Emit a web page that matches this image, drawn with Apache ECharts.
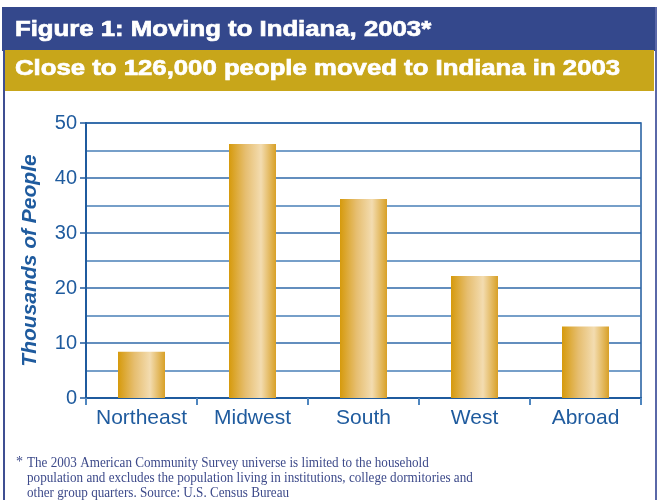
<!DOCTYPE html>
<html>
<head>
<meta charset="utf-8">
<script src="https://cdn.jsdelivr.net/npm/echarts@6/dist/echarts.min.js"></script>
<style>
html,body{margin:0;padding:0;background:#fff;}
#chart{width:658px;height:500px;}
</style>
</head>
<body>
<div id="chart"></div>
<script>
const categories = ['Northeast', 'Midwest', 'South', 'West', 'Abroad'];
const values = [8.4, 46.2, 36.2, 22.2, 13.0];
const yTicks = [0, 10, 20, 30, 40, 50];
const titleText = 'Figure 1: Moving to Indiana, 2003*';
const subtitleText = 'Close to 126,000 people moved to Indiana in 2003';
const yAxisName = 'Thousands of People';
const footnoteLines = [
  'The 2003 American Community Survey universe is limited to the household',
  'population and excludes the population living in institutions, college dormitories and',
  'other group quarters. Source: U.S. Census Bureau'
];

const blue = '#1f5b9e';
const chart = echarts.init(document.getElementById('chart'));
const barGradient = new echarts.graphic.LinearGradient(0, 0, 1, 0, [
  {offset: 0, color: '#d69a0c'},
  {offset: 0.35, color: '#e6be70'},
  {offset: 0.68, color: '#f3dcb0'},
  {offset: 1, color: '#d8a026'}
]);

chart.setOption({
  animation: false,
  grid: {left: 86, right: 17, top: 123, bottom: 102, show: true, borderColor: '#1f5b9e', borderWidth: 1.5},
  xAxis: {
    type: 'category',
    data: categories,
    axisLine: {lineStyle: {color: '#1f5b9e', width: 2}},
    axisTick: {show: true, interval: 0, length: 7, lineStyle: {color: '#4f86bf', width: 2}},
    axisLabel: {interval: 0, color: blue, fontSize: 21, fontFamily: 'Liberation Sans, Arial, sans-serif', margin: 10}
  },
  yAxis: {
    type: 'value',
    min: yTicks[0],
    max: yTicks[yTicks.length - 1],
    interval: 10,
    name: yAxisName,
    nameLocation: 'middle',
    nameGap: 45,
    nameTextStyle: {color: blue, fontSize: 21, fontWeight: 'bold', fontStyle: 'italic', fontFamily: 'Liberation Sans, Arial, sans-serif'},
    axisLine: {show: true, lineStyle: {color: '#1f5b9e', width: 2}},
    axisTick: {show: true, length: 6, lineStyle: {color: '#1f5b9e', width: 1.5}},
    axisLabel: {color: blue, fontSize: 20, fontFamily: 'Liberation Sans, Arial, sans-serif', margin: 9},
    splitLine: {show: true, lineStyle: {color: '#2f68a8', width: 1.5}},
    minorTick: {show: false, splitNumber: 2},
    minorSplitLine: {show: true, lineStyle: {color: '#4a80b8', width: 1.5}}
  },
  series: [{
    type: 'bar',
    data: values,
    barWidth: 47,
    itemStyle: {color: barGradient}
  }],
  graphic: [
    {type: 'rect', shape: {x: 2, y: 7, width: 653, height: 44}, style: {fill: '#34488c'}, z: 1},
    {type: 'rect', shape: {x: 3, y: 50, width: 651, height: 41}, style: {fill: '#c8a61a'}, z: 2},
    {type: 'line', shape: {x1: 4, y1: 50, x2: 4, y2: 500}, style: {stroke: '#3f4f92', lineWidth: 2}, z: 3},
    {type: 'line', shape: {x1: 656, y1: 7, x2: 656, y2: 500}, style: {stroke: '#5a68a8', lineWidth: 2}, z: 3},
    {type: 'text', x: 15, y: 30, scaleX: 1.17, z: 5, style: {text: titleText, fill: '#fff', stroke: '#fff', lineWidth: 0.7, font: 'bold 22px "Liberation Sans", Arial, sans-serif', textVerticalAlign: 'middle'}},
    {type: 'text', x: 15, y: 69, scaleX: 1.17, z: 5, style: {text: subtitleText, fill: '#fff', stroke: '#fff', lineWidth: 0.7, font: 'bold 22px "Liberation Sans", Arial, sans-serif', textVerticalAlign: 'middle'}},
    {type: 'text', x: 16, y: 455, z: 5, style: {text: '*', fill: '#3d4a8a', font: '14px "Liberation Serif", "Times New Roman", serif'}},
    {type: 'text', x: 27, y: 456, scaleX: 0.875, z: 5, style: {text: footnoteLines.join('\n'), fill: '#3d4a8a', font: '15px "Liberation Serif", "Times New Roman", serif', lineHeight: 15}}
  ]
});
</script>
</body>
</html>
